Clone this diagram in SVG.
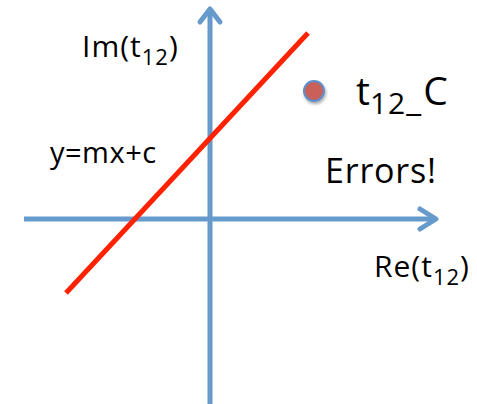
<svg xmlns="http://www.w3.org/2000/svg" width="477" height="404" viewBox="0 0 477 404">
<style>
.ax{stroke:#6699cc;stroke-width:5;fill:none}
.hd{stroke:#6699cc;stroke-width:5;fill:none;stroke-linecap:round;stroke-linejoin:round}
text{font-family:"Open Sans","Liberation Sans",sans-serif;fill:#000}
</style>
<defs>
<filter id="sh" x="-50%" y="-50%" width="200%" height="200%"><feDropShadow dx="1" dy="2" stdDeviation="1.5" flood-color="#000" flood-opacity="0.35"/></filter>
</defs>
<g id="connectors">
<line class="ax" x1="210" y1="404" x2="210" y2="9"/>
<polyline class="hd" points="200,22 210,9 220,22"/>
<line class="ax" x1="24" y1="219" x2="436" y2="219"/>
<polyline class="hd" points="420,209 436,219 420,229"/>
<line x1="66" y1="293" x2="308" y2="33" stroke="#ff2200" stroke-width="5"/>
</g>
<g id="im-label"><text x="82" y="57" font-size="30" letter-spacing="1">Im(t<tspan font-size="22" dy="8">12</tspan><tspan dy="-8">)</tspan></text></g>
<g id="re-label"><text x="374" y="277" font-size="30" letter-spacing="1">Re(t<tspan font-size="22" dy="8">12</tspan><tspan dy="-8">)</tspan></text></g>
<g id="line-label"><text x="50" y="163" font-size="29" letter-spacing="0.5">y=mx+c</text></g>
<g id="errors-label"><text x="325" y="183" font-size="34" letter-spacing="0.8">Errors!</text></g>
<g id="point">
<circle cx="314" cy="91" r="10" fill="#c9615a" stroke="#5b8fcc" stroke-width="2" filter="url(#sh)"/>
<text x="356" y="105" font-size="39">t<tspan font-size="30" dy="9" letter-spacing="1">12</tspan><tspan font-size="34" dy="-3" letter-spacing="1">_</tspan><tspan dy="-6" dx="1">C</tspan></text>
</g>
</svg>
